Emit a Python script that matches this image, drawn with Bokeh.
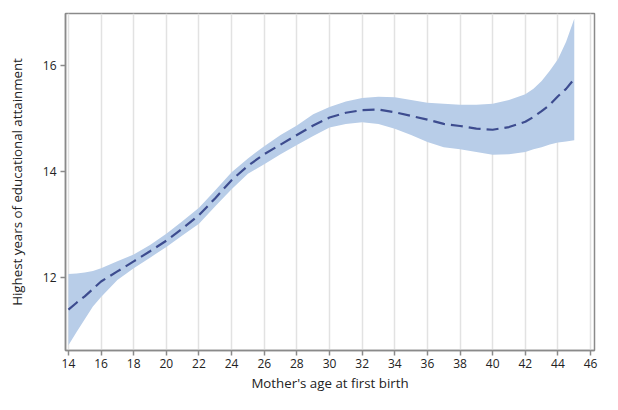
from bokeh.plotting import figure
from bokeh.models import Range1d, FixedTicker, ColumnDataSource
from bokeh.embed import file_html
from bokeh.resources import INLINE

age = [14, 14.5, 15, 15.5, 16, 17, 18, 19, 20, 21, 22, 23, 24, 25, 26, 27, 28, 29, 30,
       31, 32, 33, 34, 35, 36, 37, 38, 39, 40, 41, 42, 42.5, 43, 43.5, 44, 44.5, 45]
fit = [11.40, 11.53, 11.65, 11.79, 11.93, 12.12, 12.31, 12.50, 12.70, 12.93, 13.18, 13.50,
       13.84, 14.11, 14.33, 14.51, 14.69, 14.87, 15.02, 15.11, 15.16, 15.17, 15.12,
       15.05, 14.98, 14.90, 14.86, 14.81, 14.79, 14.84, 14.94, 15.03, 15.14, 15.26, 15.42, 15.56, 15.75]
upper = [12.07, 12.08, 12.10, 12.13, 12.18, 12.31, 12.44, 12.62, 12.83, 13.07, 13.32, 13.65,
         13.99, 14.25, 14.48, 14.69, 14.87, 15.08, 15.22, 15.32, 15.39, 15.41, 15.40,
         15.35, 15.30, 15.28, 15.26, 15.26, 15.28, 15.35, 15.46, 15.56, 15.71, 15.90, 16.12, 16.45, 16.88]
lower = [10.73, 10.98, 11.22, 11.46, 11.64, 11.96, 12.18, 12.38, 12.58, 12.80, 13.02, 13.35,
         13.67, 13.96, 14.14, 14.33, 14.50, 14.67, 14.83, 14.90, 14.93, 14.90, 14.81,
         14.69, 14.56, 14.46, 14.42, 14.37, 14.32, 14.33, 14.37, 14.42, 14.46, 14.51, 14.55, 14.57, 14.59]

x_ticks = list(range(14, 47, 2))
y_ticks = [12, 14, 16]
x_title = "Mother's age at first birth"
y_title = "Highest years of educational attainment"

src = ColumnDataSource(dict(age=age, fit=fit, upper=upper, lower=lower))

p = figure(width=602, height=394, output_backend="svg", toolbar_location=None,
           x_range=Range1d(13.82, 46.24), y_range=Range1d(10.63, 16.98),
           min_border_left=65, min_border_right=8, min_border_top=13, min_border_bottom=0)

p.varea(x="age", y1="lower", y2="upper", source=src, fill_color="#b8cde8", fill_alpha=1.0)
p.line(x="age", y="fit", source=src, line_color="#3d4c8f", line_width=2.2, line_dash="12 6")

p.xaxis.ticker = FixedTicker(ticks=x_ticks)
p.yaxis.ticker = FixedTicker(ticks=y_ticks)
p.xaxis.axis_label = x_title
p.yaxis.axis_label = y_title

for ax in (p.xaxis, p.yaxis):
    ax.axis_label_text_font = "Open Sans"
    ax.axis_label_text_font_style = "normal"
    ax.axis_label_text_font_size = "13.3px"
    ax.axis_label_text_color = "#222222"
    ax.major_label_text_font = "Open Sans"
    ax.major_label_text_font_size = "12px"
    ax.major_label_text_color = "#222222"
    ax.axis_line_color = "#8a8a8a"
    ax.axis_line_width = 1.5
    ax.major_tick_line_color = "#8a8a8a"
    ax.major_tick_line_width = 1.5
    ax.major_tick_out = 5
    ax.major_tick_in = 0
    ax.minor_tick_line_color = None

p.xaxis.major_label_standoff = 3
p.xaxis.axis_label_standoff = 3
p.yaxis.major_label_standoff = 4
p.yaxis.axis_label_standoff = 14

p.xgrid.grid_line_color = "#e2e2e2"
p.xgrid.grid_line_width = 1.5
p.ygrid.grid_line_color = None

p.outline_line_color = "#8a8a8a"
p.outline_line_width = 1.5
p.background_fill_color = "white"
p.border_fill_color = "white"

open("out.html", "w").write(file_html(p, INLINE))
